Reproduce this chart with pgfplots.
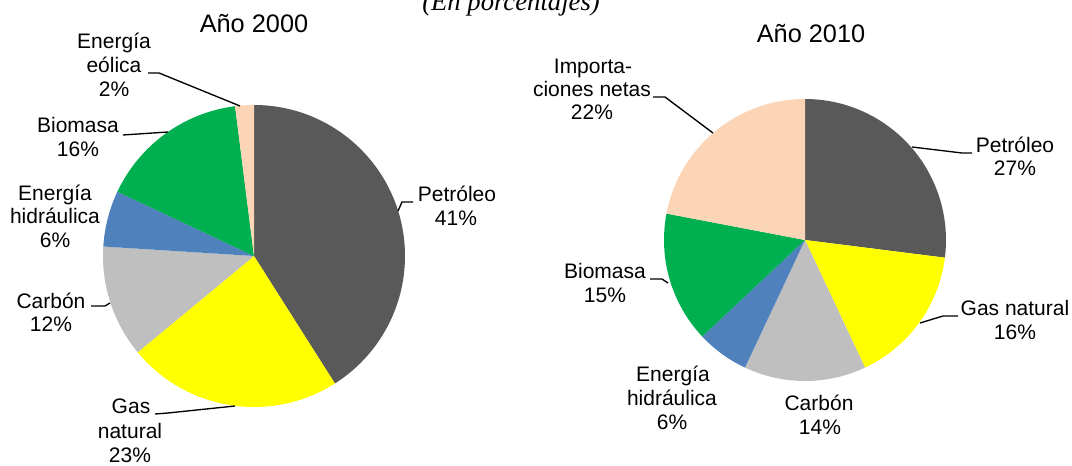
\documentclass[border=0pt]{standalone}
\usepackage{pgfplots}
\usepackage{pgfplotstable}
\pgfplotsset{compat=1.18}
\usepackage{fontspec}
\setmainfont{Liberation Sans}
\newfontfamily\timesfont{Liberation Serif}

\definecolor{cPet}{HTML}{595959}
\definecolor{cGas}{HTML}{FFFF00}
\definecolor{cCar}{HTML}{BFBFBF}
\definecolor{cHid}{HTML}{4F81BD}
\definecolor{cBio}{HTML}{00B050}
\definecolor{cEol}{HTML}{FBD5B5}

% Año 2000
\pgfplotstableread{
val col
41 cPet
23 cGas
12 cCar
6 cHid
16 cBio
2 cEol
}\tabA
% Año 2010
\pgfplotstableread{
val col
27 cPet
16 cGas
14 cCar
6 cHid
15 cBio
22 cEol
}\tabB

\newcommand\drawpie[4]{%
 \def\cum{0}%
 \pgfmathsetmacro\rpt{#4*0.75}%
 \pgfplotsforeachungrouped \k in {0,...,5}{%
  \pgfplotstablegetelem{\k}{val}\of{#1}\let\sliceval\pgfplotsretval
  \pgfplotstablegetelem{\k}{col}\of{#1}\let\slicecol\pgfplotsretval
  \pgfmathsetmacro\aS{90-3.6*\cum}%
  \pgfmathsetmacro\aE{90-3.6*(\cum+\sliceval)}%
  \pgfmathsetmacro\cum{\cum+\sliceval}%
  \edef\temp{\noexpand\fill[\slicecol] (axis cs:#2,#3) -- ++(\aS:\rpt pt) arc[start angle=\aS, end angle=\aE, radius=\rpt pt] -- cycle;}%
  \temp
 }%
}
\newcommand\lblfont{\fontsize{15.75}{19}\selectfont}
\newcommand\ttlfont{\fontsize{19}{23}\selectfont}
\newcommand\lbl[3]{\node[anchor=base,inner sep=0pt,font=\lblfont] at (axis cs:#1,#2) {#3};}

\begin{document}
\begin{tikzpicture}
\begin{axis}[scale only axis, width=804pt, height=349.5pt,
  xmin=0, xmax=1072, ymin=0, ymax=466, y dir=reverse,
  hide axis, clip=false]
\drawpie{\tabA}{254}{256}{151}
\drawpie{\tabB}{805}{240}{141}

% subtitle
\node[anchor=base,inner sep=0pt,font=\timesfont\itshape\fontsize{20}{24}\selectfont] at (axis cs:511,11) {(En porcentajes)};

% titles
\node[anchor=base,inner sep=0pt,font=\ttlfont] at (axis cs:254,33) {Año 2000};
\node[anchor=base,inner sep=0pt,font=\ttlfont] at (axis cs:811,43) {Año 2010};

% pie 1 labels
\lbl{114}{49}{Energía}
\lbl{114}{73}{eólica}
\lbl{114}{97}{2\%}
\draw[line width=1pt] (axis cs:148,73) -- (axis cs:159,73) -- (axis cs:240,106);
\lbl{78}{133}{Biomasa}
\lbl{78}{157}{16\%}
\draw[line width=1pt] (axis cs:123,135) -- (axis cs:168,132);
\lbl{55}{201}{Energía}
\lbl{55}{224}{hidráulica}
\lbl{55}{248}{6\%}
\lbl{51}{309}{Carbón}
\lbl{51}{332}{12\%}
\draw[line width=1pt] (axis cs:91,306) -- (axis cs:105,306) -- (axis cs:110,303);
\lbl{131}{414}{Gas}
\lbl{130}{439}{natural}
\lbl{130}{463}{23\%}
\draw[line width=1pt] (axis cs:155,414) -- (axis cs:168,413) -- (axis cs:235,406);
\lbl{457}{202}{Petróleo}
\lbl{456}{226}{41\%}
\draw[line width=1pt] (axis cs:413,202) -- (axis cs:402,202) -- (axis cs:398,211);

% pie 2 labels
\lbl{593}{74}{Importa-}
\lbl{592}{97}{ciones netas}
\lbl{592}{120}{22\%}
\draw[line width=1pt] (axis cs:653,97) -- (axis cs:665,97) -- (axis cs:713,133);
\lbl{1015}{153}{Petróleo}
\lbl{1015}{176}{27\%}
\draw[line width=1pt] (axis cs:972,153) -- (axis cs:962,153) -- (axis cs:912,147);
\lbl{1015}{316}{Gas natural}
\lbl{1015}{340}{16\%}
\draw[line width=1pt] (axis cs:958,316) -- (axis cs:943,316) -- (axis cs:920,323);
\lbl{605}{279}{Biomasa}
\lbl{605}{303}{15\%}
\draw[line width=1pt] (axis cs:650,279) -- (axis cs:662,279) -- (axis cs:668,283);
\lbl{673}{382}{Energía}
\lbl{672}{406}{hidráulica}
\lbl{672}{430}{6\%}
\lbl{819}{411}{Carbón}
\lbl{820}{435}{14\%}
\end{axis}
\pgfresetboundingbox
\path[use as bounding box] (current axis.south west) rectangle (current axis.north east);
\end{tikzpicture}
\end{document}
